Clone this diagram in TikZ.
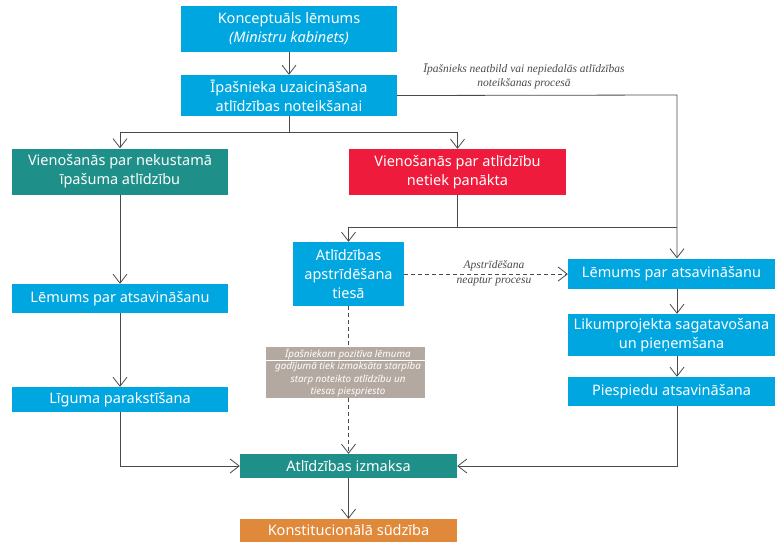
\documentclass[tikz,border=0pt]{standalone}
\usepackage{fontspec}
\setmainfont{Noto Sans}
\newfontfamily\lblfont{Liberation Serif}
\usetikzlibrary{arrows.meta}
\definecolor{cblue}{HTML}{00A6E0}
\definecolor{cteal}{HTML}{1E9089}
\definecolor{cred}{HTML}{EE1B3C}
\definecolor{cgray}{HTML}{B4A9A1}
\definecolor{corange}{HTML}{E0893A}
\definecolor{cline}{HTML}{4A4A4A}
\definecolor{clbl}{HTML}{4A4A4A}
\tikzset{
  boxn/.style={fill=#1, text=white, align=center, inner sep=0pt,
    font=\fontsize{14.5}{19}\selectfont},
  conn/.style={draw=cline, line width=0.8pt},
  arr/.style={conn, -{Straight Barb[length=9pt,width=14pt,line width=0.8pt]}},
  darr/.style={arr, dashed, dash pattern=on 4pt off 3pt},
  lbl/.style={text=clbl, align=center, inner sep=0pt,
    font=\lblfont\itshape\fontsize{11.5}{14}\selectfont},
  graytxt/.style={text=white, align=center, inner sep=0pt, anchor=north,
    font=\itshape\fontsize{9.8}{12.5}\selectfont},
}
\begin{document}
\begin{tikzpicture}[x=1pt,y=-1pt]
\useasboundingbox (0,0) rectangle (775,542);
\node[boxn=cblue, minimum width=216pt, minimum height=46pt] (konc) at (289,29)
  {Konceptuāls lēmums\\\textit{(Ministru kabinets)}};
\node[boxn=cblue, minimum width=216pt, minimum height=41pt] (ipas) at (289,95.5)
  {Īpašnieka uzaicināšana\\atlīdzības noteikšanai};
\node[boxn=cteal, minimum width=216pt, minimum height=46pt] (vien) at (120,171.5)
  {Vienošanās par nekustamā\\īpašuma atlīdzību};
\node[boxn=cred, minimum width=217pt, minimum height=46pt] (nepan) at (457.5,172)
  {Vienošanās par atlīdzību\\netiek panākta};
\node[boxn=cblue, minimum width=111pt, minimum height=64pt] (apstr) at (348.5,274)
  {Atlīdzības\\apstrīdēšana\\tiesā};
\node[boxn=cblue, minimum width=207pt, minimum height=30pt] (lemr) at (671.5,273.5)
  {Lēmums par atsavināšanu};
\node[boxn=cblue, minimum width=207pt, minimum height=42pt] (likum) at (671.5,335)
  {Likumprojekta sagatavošana\\un pieņemšana};
\node[boxn=cblue, minimum width=207pt, minimum height=29pt] (piesp) at (671.5,391.5)
  {Piespiedu atsavināšana};
\node[boxn=cblue, minimum width=216pt, minimum height=29pt] (leml) at (120,298.5)
  {Lēmums par atsavināšanu};
\node[boxn=cblue, minimum width=216pt, minimum height=25pt] (lig) at (120,399.5)
  {Līguma parakstīšana};
\node[boxn=cteal, minimum width=217pt, minimum height=24pt] (izm) at (348.5,466)
  {Atlīdzības izmaksa};
\node[boxn=corange, minimum width=217pt, minimum height=23pt] (konst) at (348.5,530.5)
  {Konstitucionālā sūdzība};
\node[fill=cgray, minimum width=159pt, minimum height=51pt, inner sep=0pt] (grayb) at (345.5,372.5) {};
\node[graytxt] (grayt1) at (348,348.5) {Īpašniekam pozitīva lēmuma};
\node[graytxt] (grayt2) at (348,362) {gadījumā tiek izmaksāta starpība\\starp noteikto atlīdzību un\\tiesas piespriesto};
\draw[white, line width=0.8pt] (grayb.west |- 0,360) coordinate (gl1) -- (grayb.east |- 0,360) coordinate (gl2);

\coordinate (rx) at (677,0);
\coordinate (split) at (289,132);
\coordinate (fork) at (457,227);
\coordinate (corner1) at (677,95);

% top chain
\draw[arr] (konc.south) -- (ipas.north);
\draw[conn] (ipas.south) -- (split);
\draw[arr] (split) -| (vien.north);
\draw[arr] (split) -| (nepan.north);
\draw[arr] (ipas.east) -- (corner1) -- (lemr.north -| rx);
\node[lbl] (lblno) at (524,76) {Īpašnieks neatbild vai nepiedalās atlīdzības\\noteikšanas procesā};

% red fork
\draw[conn] (nepan.south -| fork) -- (fork);
\draw[arr] (fork) -| (apstr.north);
\draw[conn] (fork) -- (fork -| rx);

% dashed
\draw[darr] (apstr.east) -- (apstr.east -| lemr.west);
\node[lbl] (lblap) at (494,266) {Apstrīdēšana};
\node[lbl] (lblnp) at (494,281) {neaptur procesu};
\draw[conn, dashed, dash pattern=on 4pt off 3pt] (apstr.south) -- (apstr.south |- grayb.north);
\draw[darr] (apstr.south |- grayb.south) -- (izm.north);

% right column
\draw[arr] (lemr.south -| rx) -- (likum.north -| rx);
\draw[arr] (likum.south -| rx) -- (piesp.north -| rx);
\draw[arr] (piesp.south -| rx) |- (izm.east);

% left column
\draw[arr] (vien.south) -- (leml.north);
\draw[arr] (leml.south) -- (lig.north);
\draw[arr] (lig.south) |- (izm.west);

% bottom
\draw[arr] (izm.south) -- (konst.north);
\end{tikzpicture}
\end{document}
